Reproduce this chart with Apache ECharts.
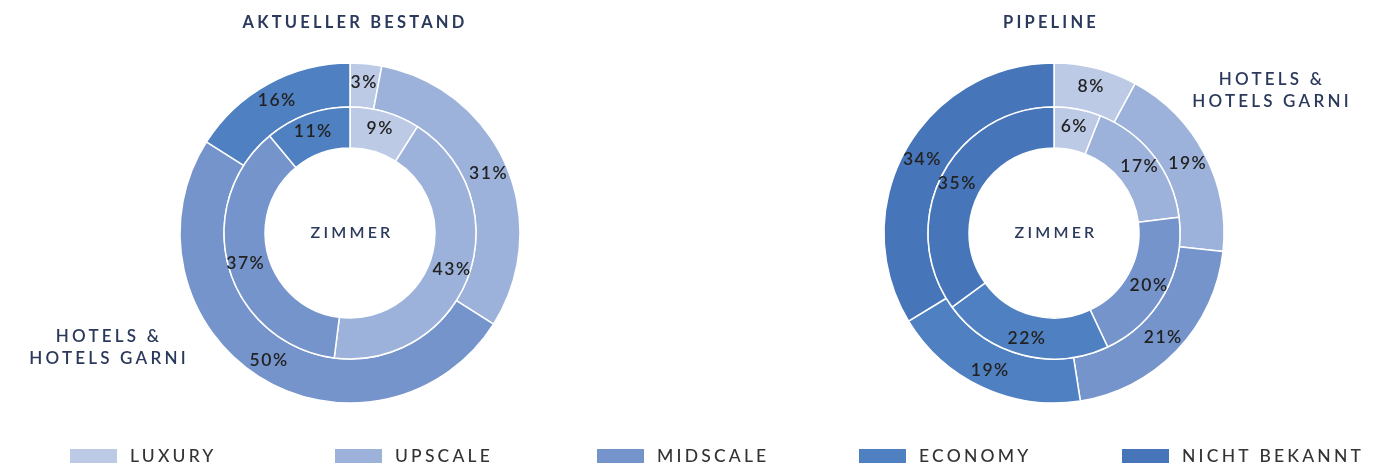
<!DOCTYPE html>
<html>
<head>
<meta charset="utf-8">
<script src="https://cdn.jsdelivr.net/npm/echarts@6/dist/echarts.min.js"></script>
<style>
html,body{margin:0;padding:0;background:#fff;}
#chart{width:1394px;height:466px;}
</style>
</head>
<body>
<div id="chart"></div>
<script>
// ---- data ----
const categories = ['LUXURY', 'UPSCALE', 'MIDSCALE', 'ECONOMY', 'NICHT BEKANNT'];
const leftOuter = [3, 31, 50, 16];        // Aktueller Bestand – Hotels & Hotels garni
const leftInner = [9, 43, 37, 11];        // Aktueller Bestand – Zimmer
const rightOuter = [8, 19, 21, 19, 34];   // Pipeline – Hotels & Hotels garni
const rightInner = [6, 17, 20, 22, 35];   // Pipeline – Zimmer
const titles = ['AKTUELLER BESTAND', 'PIPELINE'];
const ringLabel = 'HOTELS &\nHOTELS GARNI';
const centerLabel = 'ZIMMER';

// ---- style ----
const colors = ['#bccae6', '#9db2da', '#7594cb', '#4f80c1', '#4676b9'];
const navy = '#2b3a5c';
const font = 'Lato';

// letter spacing for the tracked typography of the original
(function () {
  const proto = CanvasRenderingContext2D.prototype;
  if (!('letterSpacing' in proto)) return;
  const orig = proto.fillText;
  proto.fillText = function (t, x, y, w) {
    const prev = this.letterSpacing;
    this.letterSpacing = /%/.test(String(t)) ? '1.5px' : '3.2px';
    if (w === undefined) orig.call(this, t, x, y); else orig.call(this, t, x, y, w);
    this.letterSpacing = prev;
  };
})();

function mkData(vals) {
  return vals.map((v, i) => ({ name: categories[i], value: v, itemStyle: { color: colors[i] } }));
}
function mkSeries(vals, center, radius) {
  return {
    type: 'pie',
    center: center,
    radius: radius,
    startAngle: 90,
    clockwise: true,
    animation: false,
    silent: true,
    itemStyle: { borderColor: '#ffffff', borderWidth: 1.5 },
    label: {
      show: true, position: 'inside', formatter: '{c}%',
      color: '#222', fontFamily: font, fontSize: 17.5, fontWeight: 600
    },
    labelLine: { show: false },
    emphasis: { disabled: true },
    data: mkData(vals)
  };
}

const cL = [350, 233], cR = [1054, 233];
const outerR = [126, 170], innerR = [85, 126];

const legendLefts = [68, 333, 595, 857, 1120];
const legends = categories.map((c, i) => ({
  left: legendLefts[i], top: 447, padding: 0,
  data: [c],
  itemWidth: 49, itemHeight: 16, icon: 'rect',
  selectedMode: false,
  textStyle: { color: '#333', fontFamily: font, fontSize: 17.5, fontWeight: 500, padding: [2, 0, 0, 7] }
}));

const chart = echarts.init(document.getElementById('chart'), null, { renderer: 'canvas' });
chart.setOption({
  backgroundColor: '#ffffff',
  animation: false,
  title: [
    { text: titles[0], left: 355, top: 14, textAlign: 'center', padding: 0,
      textStyle: { color: navy, fontFamily: font, fontSize: 16.5, fontWeight: 'bold' } },
    { text: titles[1], left: 1051, top: 14, textAlign: 'center', padding: 0,
      textStyle: { color: navy, fontFamily: font, fontSize: 16.5, fontWeight: 'bold' } }
  ],
  legend: legends,
  graphic: [
    { type: 'text', x: 109, y: 326, style: { text: ringLabel, fill: navy, font: '600 17px ' + font, lineHeight: 22, align: 'center', verticalAlign: 'top' } },
    { type: 'text', x: 1272, y: 69, style: { text: ringLabel, fill: navy, font: '600 17px ' + font, lineHeight: 22, align: 'center', verticalAlign: 'top' } },
    { type: 'text', x: cL[0] + 2, y: cL[1], style: { text: centerLabel, fill: navy, font: '600 16px ' + font, align: 'center', verticalAlign: 'middle' } },
    { type: 'text', x: cR[0] + 2, y: cR[1], style: { text: centerLabel, fill: navy, font: '600 16px ' + font, align: 'center', verticalAlign: 'middle' } }
  ],
  series: [
    mkSeries(leftOuter, cL, outerR),
    mkSeries(leftInner, cL, innerR),
    mkSeries(rightOuter, cR, outerR),
    mkSeries(rightInner, cR, innerR)
  ]
});
</script>
</body>
</html>
